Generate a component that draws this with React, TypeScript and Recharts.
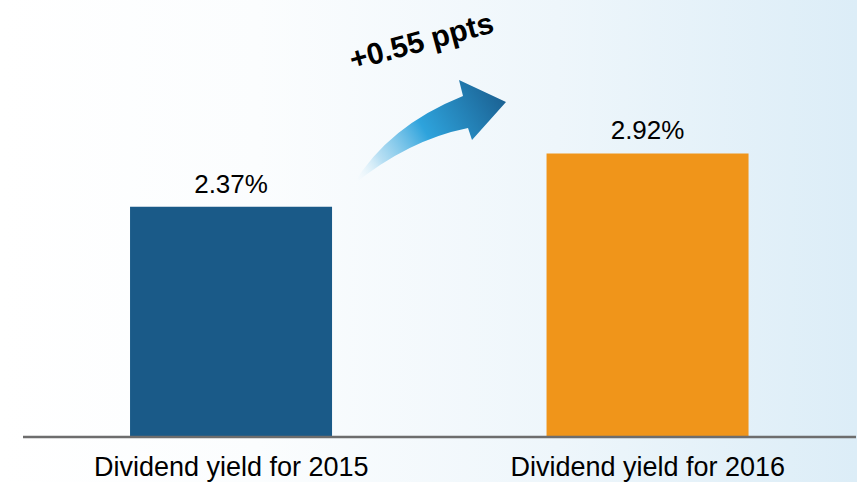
import React from "react";
import { BarChart, Bar, XAxis, YAxis, Cell, LabelList } from "recharts";

const categories = ["Dividend yield for 2015", "Dividend yield for 2016"];
const yields = [2.37, 2.92];
const barColors = ["#1a5a88", "#f0951a"];

const data = categories.map((name, i) => ({ name, value: yields[i] }));
const diff = (yields[1] - yields[0]).toFixed(2);

const Tick = (props: any) => {
  const { x, payload } = props;
  return (
    <text x={x} y={476} textAnchor="middle" fill="#000" fontSize={27} fontFamily="Liberation Sans, Arial, sans-serif">
      {payload.value}
    </text>
  );
};

export default function App() {
  return (
    <div
      style={{
        position: "absolute",
        left: 0,
        top: 0,
        width: 857,
        height: 482,
        background: "linear-gradient(to right, #ffffff 0%, #fbfdfe 30%, #eef6fb 65%, #dcedf7 100%)",
        overflow: "hidden",
      }}
    >
      <BarChart width={857} height={482} data={data} margin={{ top: 0, right: 1, left: 23, bottom: 0 }} barCategoryGap="25.7%">
        <XAxis
          dataKey="name"
          height={45}
          axisLine={{ stroke: "#6d6d6d", strokeWidth: 2.5 }}
          tickLine={false}
          tick={<Tick />}
          interval={0}
        />
        <YAxis hide domain={[0, 4.5]} />
        <Bar dataKey="value" isAnimationActive={false}>
          {data.map((d, i) => (
            <Cell key={d.name} fill={barColors[i]} />
          ))}
          <LabelList
            dataKey="value"
            position="top"
            offset={14}
            formatter={(v: any) => `${v.toFixed(2)}%`}
            style={{ fill: "#000", fontSize: 26, fontFamily: "Liberation Sans, Arial, sans-serif" }}
          />
        </Bar>
      </BarChart>
      <svg width={857} height={482} style={{ position: "absolute", left: 0, top: 0, pointerEvents: "none" }}>
        <defs>
          <linearGradient id="arrowGrad" gradientUnits="userSpaceOnUse" x1={355} y1={185} x2={506} y2={95}>
            <stop offset="0" stopColor="#ffffff" stopOpacity={0.1} />
            <stop offset="0.2" stopColor="#a9d9f1" stopOpacity={0.8} />
            <stop offset="0.5" stopColor="#2ea3dc" />
            <stop offset="1" stopColor="#1a5f90" />
          </linearGradient>
        </defs>
        <path
          d="M 353 185 Q 388 126 463 96 L 459 80 L 506 102 L 472 140 L 468 128 Q 408 140 353 185 Z"
          fill="url(#arrowGrad)"
        />
        <text
          x={424}
          y={51}
          textAnchor="middle"
          fontSize={30}
          fontWeight="bold"
          fontFamily="Liberation Sans, Arial, sans-serif"
          fill="#000"
          transform="rotate(-15 424 51)"
        >
          {`+${diff} ppts`}
        </text>
      </svg>
    </div>
  );
}
